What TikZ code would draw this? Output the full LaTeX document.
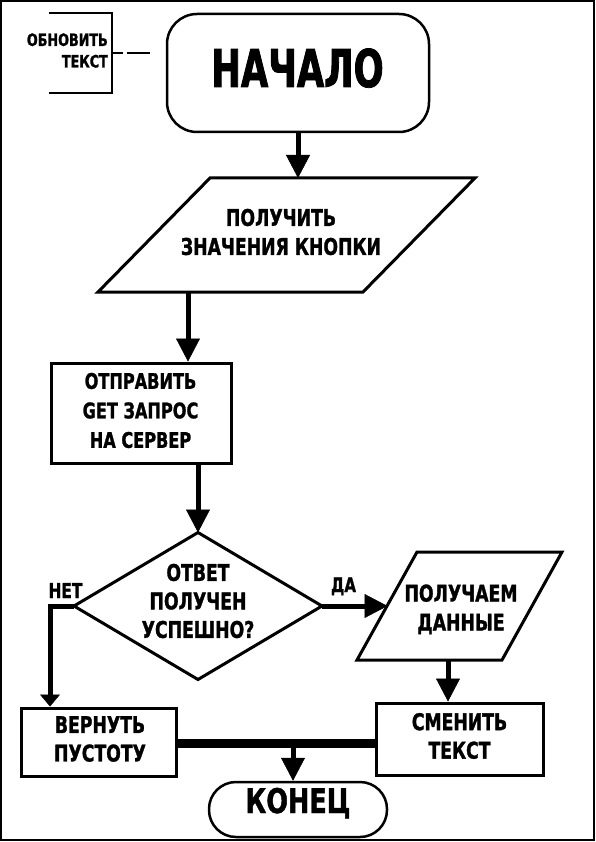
\documentclass[tikz,border=0pt]{standalone}
\usepackage{fontspec}
\newfontfamily\fa{DejaVu Sans}[FakeStretch=0.75,FakeBold=1.2]
\newfontfamily\fb{DejaVu Sans}[FakeStretch=0.68,FakeBold=1.5]
\usetikzlibrary{arrows.meta,calc}
\newcommand\nodesc[1]{\raisebox{0pt}[\height][0pt]{#1}}
\tikzset{
  ghost/.style={draw=none, inner sep=0pt, outer sep=0pt},
  outl/.style={line width=3pt, line join=miter},
  boxnode/.style={draw, line width=3pt, inner sep=0pt},
  termnode/.style={draw, line width=2.5pt, inner sep=0pt},
  conn/.style={line width=5pt, -{Triangle[width=24pt,length=23pt,line width=0.5pt]}},
  connsmall/.style={line width=5pt, line join=miter, -{Triangle[width=20pt,length=12pt,line width=0.5pt]}},
  txt/.style={inner sep=0pt, align=center, font=\fa\bfseries\fontsize{23}{29}\selectfont},
}
\begin{document}
\begin{tikzpicture}[x=1pt,y=-1pt]
\useasboundingbox (0,0) rectangle (595,842);
\fill[white] (0,0) rectangle (595,842);
\draw[line width=2pt] (1,1) rectangle (594,840);

% annotation bracket
\node[ghost, minimum width=63pt, minimum height=80pt] (anno) at (80.5,53) {};
\draw[line width=2.5pt, line join=miter] (anno.north west) -- (anno.north east) -- (anno.south east) -- (anno.south west);
\node[inner sep=0pt, anchor=east, align=right, font=\fa\bfseries\fontsize{17}{21.5}\selectfont] (annoT) at (108,50.5) {ОБНОВИТЬ\\ТЕКСТ};

% start terminal
\node[termnode, rounded corners=30pt, minimum width=262pt, minimum height=118pt] (beg) at (298,73) {};
\node[inner sep=0pt, anchor=base, font=\fb\bfseries\fontsize{52}{60}\selectfont] (begT) at (297.5,87) {НАЧАЛО};
\coordinate (dashE) at (150,53);
\draw[line width=2.5pt, dash pattern=on 11pt off 4pt on 30pt off 4pt] (anno.east) -- (dashE);

% parallelogram 1
\node[ghost, minimum width=377pt, minimum height=114pt] (p1) at (286.5,235) {};
\draw[outl] ([xshift=112pt]p1.north west) -- (p1.north east) -- ([xshift=-112pt]p1.south east) -- (p1.south west) -- cycle;
\node[txt] (p1T) at (281,232) {ПОЛУЧИТЬ\\ЗНАЧЕНИЯ КНОПКИ};

% rectangle 1
\node[boxnode, minimum width=180pt, minimum height=100pt] (r1) at (141,413) {};
\node[txt, font=\fa\bfseries\fontsize{21.5}{29.5}\selectfont] (r1T) at (140.5,410.5) {ОТПРАВИТЬ\\GET ЗАПРОС\\НА СЕРВЕР};

% decision
\node[ghost, minimum width=248pt, minimum height=147pt] (dia) at (198,606) {};
\draw[outl] (dia.north) -- (dia.east) -- (dia.south) -- (dia.west) -- cycle;
\node[txt, font=\fa\bfseries\fontsize{23}{28.5}\selectfont] (diaT) at (198,601) {ОТВЕТ\\ПОЛУЧЕН\\УСПЕШНО?};

% parallelogram 2
\node[ghost, minimum width=205pt, minimum height=108pt] (p2) at (459.5,606) {};
\draw[outl] ([xshift=60pt]p2.north west) -- (p2.north east) -- ([xshift=-60pt]p2.south east) -- (p2.south west) -- cycle;
\node[txt] (p2T) at (461,607.5) {ПОЛУЧАЕМ\\\nodesc{Д}АННЫЕ};

% rectangles 2 and 3
\node[boxnode, minimum width=155pt, minimum height=68pt] (r2) at (98.5,742) {};
\node[txt, font=\fa\bfseries\fontsize{23}{28.5}\selectfont] (r2T) at (100,739) {ВЕРНУТЬ\\ПУСТОТУ};
\node[boxnode, minimum width=167pt, minimum height=72pt] (r3) at (459.5,739) {};
\node[txt, font=\fa\bfseries\fontsize{23}{28.5}\selectfont] (r3T) at (459.5,736) {СМЕНИТЬ\\ТЕКСТ};

% end terminal
\node[termnode, rounded corners=27pt, minimum width=178pt, minimum height=55pt] (fin) at (298,809.5) {};
\node[inner sep=0pt, anchor=base, font=\fa\bfseries\fontsize{34}{40}\selectfont] (finT) at (298,813) {КОНЕЦ};

% labels
\node[inner sep=0pt, anchor=base, font=\fa\bfseries\fontsize{20.5}{24}\selectfont] (noT) at (65.5,598) {НЕТ};
\node[inner sep=0pt, anchor=base, font=\fa\bfseries\fontsize{20}{24}\selectfont] (yesT) at (343.5,592) {ДА};

% connectors
\draw[conn] (beg.south) -- (beg.south |- p1.north);
\coordinate (a2) at ([xshift=47pt]r1.north);
\draw[conn] (a2 |- p1.south) -- (a2);
\draw[conn] (dia.north |- r1.south) -- (dia.north);
\coordinate (nw) at ([xshift=-48.5pt]r2.north);
\draw[connsmall] (dia.west) -| (nw);
\coordinate (p2in) at ([xshift=30.5pt]p2.west);
\draw[conn] (dia.east) -- (p2in);
\coordinate (a4) at ([xshift=-11.5pt]r3.north);
\draw[conn] (a4 |- p2.south) -- (a4);
\coordinate (jl) at ([yshift=-1.5pt]r2.east);
\coordinate (jr) at (jl -| r3.west);
\draw[line width=9pt] (jl) -- (jr);
\coordinate (ja) at ([xshift=-5pt]fin.north);
\draw[conn] (ja |- jl) -- (ja);
\end{tikzpicture}
\end{document}
